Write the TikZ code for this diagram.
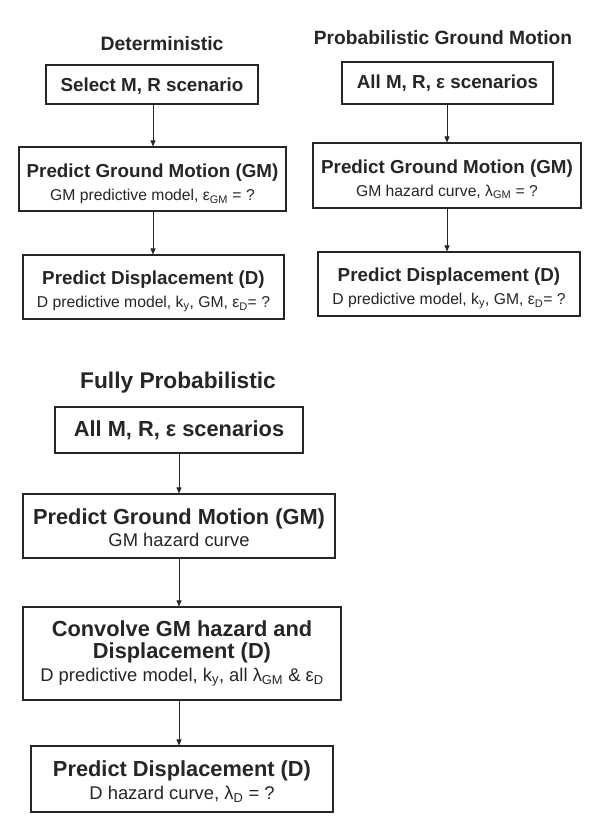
\documentclass[tikz,border=0pt]{standalone}
\usepackage{fontspec}
\setmainfont{Liberation Sans}
\usetikzlibrary{arrows.meta}

\definecolor{ink}{HTML}{262626}

\tikzset{
  title/.style={font=\fontsize{#1}{#1}\bfseries\selectfont, text=ink, inner sep=0pt},
  stepbox/.style={draw=ink, line width=1.1pt, text=ink, align=center,
    inner sep=0pt, minimum width=#1},
  upper/.style={font=\fontsize{18.8}{23}\selectfont},
  lower/.style={font=\fontsize{21.8}{22.5}\selectfont},
  flow/.style={draw=ink, line width=0.8pt, -{Triangle[length=6pt,width=5pt]}},
}

% upper panels: heading and body sizes
\newcommand{\hdA}{\fontsize{18.8}{23}\bfseries\selectfont}
\newcommand{\txA}{\fontsize{15.7}{23}\mdseries\selectfont}
% lower panel: heading and body sizes
\newcommand{\hdB}{\fontsize{21.8}{22.5}\bfseries\selectfont}
\newcommand{\txB}{\fontsize{18.4}{22.5}\mdseries\selectfont}
% invisible strut that lowers the text block inside a box
\newcommand{\headroom}[1]{\rule{0pt}{#1}}

\begin{document}
\begin{tikzpicture}[x=1pt, y=-1pt]
\path[use as bounding box, fill=white] (0,0) rectangle (589,824);

% ---------- Deterministic ----------
\node[title=19.4] (dT) at (162,44) {Deterministic};
\node[stepbox=212pt, upper, minimum height=39pt] (d1) at (152,84.5)
  {\hdA\headroom{16pt}Select M, R scenario};
\node[stepbox=267pt, upper, minimum height=64pt] (d2) at (152.5,179)
  {\hdA\headroom{24pt}Predict Ground Motion (GM)\\ \txA GM predictive model, ε\textsubscript{GM} = ?};
\node[stepbox=261pt, upper, minimum height=64pt] (d3) at (153.5,287)
  {\hdA\headroom{23pt}Predict Displacement (D)\\ \txA D predictive model, k\textsubscript{y}, GM, ε\textsubscript{D}= ?};
\draw[flow] (d1.south -| 153,0) -- (d2.north -| 153,0);
\draw[flow] (d2.south -| 153,0) -- (d3.north -| 153,0);

% ---------- Probabilistic Ground Motion ----------
\node[title=19.2] (pT) at (443,38) {Probabilistic Ground Motion};
\node[stepbox=211pt, upper, minimum height=42pt] (p1) at (447.5,83)
  {\hdA All M, R, ε scenarios};
\node[stepbox=268pt, upper, minimum height=65pt] (p2) at (447,175.5)
  {\hdA\headroom{21pt}Predict Ground Motion (GM)\\ \txA GM hazard curve, λ\textsubscript{GM} = ?};
\node[stepbox=262pt, upper, minimum height=64pt] (p3) at (449,284)
  {\hdA\headroom{23pt}Predict Displacement (D)\\ \txA D predictive model, k\textsubscript{y}, GM, ε\textsubscript{D}= ?};
\draw[flow] (p1.south -| 447,0) -- (p2.north -| 447,0);
\draw[flow] (p2.south -| 447,0) -- (p3.north -| 447,0);

% ---------- Fully Probabilistic ----------
\node[title=22.7] (fT) at (178,383) {Fully Probabilistic};
\node[stepbox=248pt, lower, minimum height=46pt] (f1) at (179,430)
  {\hdB All M, R, ε scenarios};
\node[stepbox=312pt, lower, minimum height=64pt] (f2) at (179,526)
  {\hdB\headroom{19pt}Predict Ground Motion (GM)\\ \txB GM hazard curve};
\node[stepbox=318pt, lower, minimum height=93pt] (f3) at (182,653.5)
  {\hdB Convolve GM hazard and\\ \hdB Displacement (D)\\ \txB D predictive model, k\textsubscript{y}, all λ\textsubscript{GM} \& ε\textsubscript{D}};
\node[stepbox=302pt, lower, minimum height=66pt] (f4) at (182,779)
  {\hdB\headroom{21pt}Predict Displacement (D)\\ \txB D hazard curve, λ\textsubscript{D} = ?};
\draw[flow] (f1.south -| 179,0) -- (f2.north -| 179,0);
\draw[flow] (f2.south -| 179,0) -- (f3.north -| 179,0);
\draw[flow] (f3.south -| 179,0) -- (f4.north -| 179,0);
\end{tikzpicture}
\end{document}
